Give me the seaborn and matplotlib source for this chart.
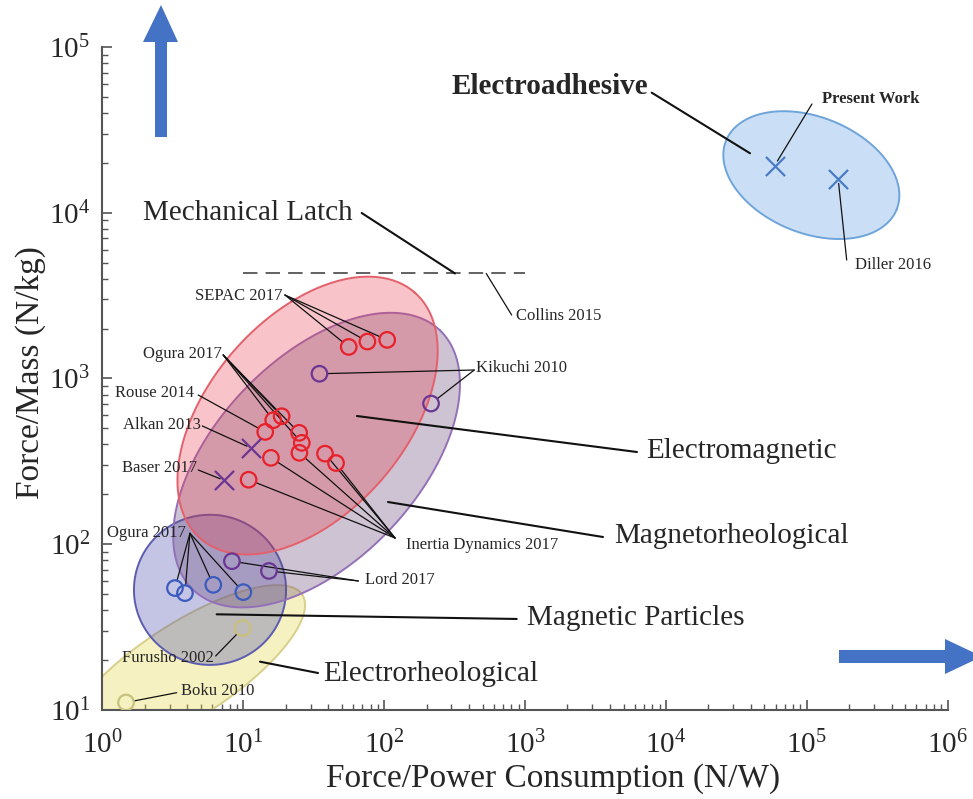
import numpy as np
import pandas as pd
import matplotlib
matplotlib.use("Agg")
import matplotlib.pyplot as plt
from matplotlib.patches import Polygon
from matplotlib.ticker import LogLocator, NullFormatter, LogFormatterMathtext
import seaborn as sns

# values (force/power in N/W, force/mass in N/kg)
ea_x = [5.9e4, 1.67e5]
ea_y = [1.92e4, 1.59e4]
ea_study = ["Present Work", "Diller 2016"]

em_x = [56, 76, 105, 16.3, 18.7, 24.9, 26.0, 14.3, 25.0, 15.7, 38.0, 45.5, 10.9]
em_y = [1550, 1670, 1710, 560, 592, 470, 409, 476, 356, 332, 352, 309, 245]
em_study = ["SEPAC 2017"] * 3 + ["Ogura 2017"] * 4 + ["Rouse 2014"] + ["Inertia Dynamics 2017"] * 5

mr_x = [34.7, 215, 8.3, 15.2]
mr_y = [1068, 706, 79, 69]
mr_study = ["Kikuchi 2010"] * 2 + ["Lord 2017"] * 2

mrx_x = [11.3, 7.3]
mrx_y = [381, 243]
mrx_study = ["Alkan 2013", "Baser 2017"]

mp_x = [3.27, 3.85, 6.12, 10.0]
mp_y = [54.4, 50.7, 56.9, 51.4]
mp_study = ["Ogura 2017 MP"] * 4

er_x = [9.9, 1.47]
er_y = [31.2, 11.1]
er_study = ["Furusho 2002", "Boku 2010"]

latch_x = [10, 1000]
latch_y = [4300, 4300]

# regions: log10 centre, semi-axes (x-decades), angle (deg)
region_names = ["Electrorheological", "Magnetic Particles", "Magnetorheological",
                "Electromagnetic", "Electroadhesive"]
region_cx = [0.585, 0.7635, 1.520, 1.456, 5.032]
region_cy = [1.235, 1.725, 2.5076, 2.7764, 4.227]
region_a = [0.994, 0.540, 1.271, 1.158, 0.653]
region_b = [0.335, 0.533, 0.717, 0.696, 0.412]
region_ang = [33, 0, 46.5, 49, -22]
region_fill = ["#e6d94e", "#4a4ab0", "#6b4b78", "#e83c4c", "#5a9ee0"]
region_alpha = [0.35, 0.32, 0.33, 0.30, 0.32]
region_edge = ["#d8cf8a", "#5c5cb0", "#9470b8", "#e4606a", "#6fa4da"]

rows = []
for g, xs, ys, st, mk in [("EA", ea_x, ea_y, ea_study, "x"), ("EM", em_x, em_y, em_study, "o"),
                          ("MR", mr_x, mr_y, mr_study, "o"), ("MR", mrx_x, mrx_y, mrx_study, "x"),
                          ("MP", mp_x, mp_y, mp_study, "o"), ("ER", er_x, er_y, er_study, "o")]:
    for x, y, s in zip(xs, ys, st):
        rows.append(dict(group=g, x=x, y=y, study=s, marker=mk))
df = pd.DataFrame(rows)

group_color = {"EA": "#4a7cc6", "EM": "#e8202a", "MR": "#6a3593", "MP": "#3b5bbf", "ER": "#c9c07c"}

sns.set_style("ticks")
plt.rcParams["font.family"] = ["Liberation Serif", "DejaVu Serif"]
plt.rcParams["mathtext.fontset"] = "custom"
plt.rcParams["mathtext.rm"] = "Liberation Serif"
plt.rcParams["mathtext.it"] = "Liberation Serif:italic"
plt.rcParams["mathtext.bf"] = "Liberation Serif:bold"

W, H = 973, 799
fig = plt.figure(figsize=(W / 100, H / 100), dpi=100)
L, R, B, T = 0.1053, 0.974, 0.1114, 0.9412
fig.subplots_adjust(left=L, right=R, bottom=B, top=T)
ax = fig.add_subplot(111)
ax.set_xscale("log")
ax.set_yscale("log")
ax.set_xlim(1, 1e6)
ax.set_ylim(10, 1e5)

# y decade length relative to x decade length on screen
aspect = ((T - B) * H / 4) / ((R - L) * W / 6)


def ellipse_xy(cx, cy, a, b, ang):
    t = np.linspace(0, 2 * np.pi, 361)
    th = np.deg2rad(ang)
    dx = a * np.cos(t) * np.cos(th) - b * np.sin(t) * np.sin(th)
    dy = a * np.cos(t) * np.sin(th) + b * np.sin(t) * np.cos(th)
    return 10 ** (cx + dx), 10 ** (cy + dy / aspect)


for i in range(len(region_names)):
    ex, ey = ellipse_xy(region_cx[i], region_cy[i], region_a[i], region_b[i], region_ang[i])
    ax.fill(ex, ey, color=region_fill[i], alpha=region_alpha[i], lw=0, zorder=1 + i * 0.1)
    ax.plot(ex, ey, color=region_edge[i], lw=1.4, zorder=1.05 + i * 0.1)

ax.plot(latch_x, latch_y, color="#555555", lw=1.3, dashes=(8, 4.5), zorder=2)

for (g, mk), sub in df.groupby(["group", "marker"]):
    c = group_color[g]
    if mk == "o":
        sns.scatterplot(data=sub, x="x", y="y", marker="o", s=125, color=c,
                        facecolor="none", edgecolor=c, linewidth=1.6, ax=ax,
                        legend=False, zorder=5)
    else:
        sns.scatterplot(data=sub, x="x", y="y", marker="x", s=190, color=c,
                        linewidth=1.6, ax=ax, legend=False, zorder=5)

# small labels: text, group, study key, text pos (axes frac), ha, leader origin
small_labels = [
    ("SEPAC 2017", "EM", "SEPAC 2017", (0.2135, 0.6244), "right", (0.2159, 0.6259)),
    ("Ogura 2017", "EM", "Ogura 2017", (0.1410, 0.5370), "right", (0.1429, 0.5354)),
    ("Rouse 2014", "EM", "Rouse 2014", (0.1086, 0.4777), "right", (0.1133, 0.4751)),
    ("Alkan 2013", "MR", "Alkan 2013", (0.1165, 0.4299), "right", (0.1181, 0.4284)),
    ("Baser 2017", "MR", "Baser 2017", (0.1115, 0.3646), "right", (0.1133, 0.3620)),
    ("Inertia Dynamics 2017", "EM", "Inertia Dynamics 2017", (0.3591, 0.2489), "left", (0.3461, 0.2594)),
    ("Kikuchi 2010", "MR", "Kikuchi 2010", (0.4418, 0.5154), "left", (0.4399, 0.5128)),
    ("Lord 2017", "MR", "Lord 2017", (0.3106, 0.1961), "left", (0.3027, 0.1946)),
    ("Ogura 2017", "MP", "Ogura 2017 MP", (0.0984, 0.2674), "right", (0.1035, 0.2665)),
    ("Furusho 2002", "ER", "Furusho 2002", (0.1311, 0.0780), "right", (0.1339, 0.0814)),
    ("Boku 2010", "ER", "Boku 2010", (0.0929, 0.0287), "left", (0.0878, 0.0261)),
    ("Diller 2016", "EA", "Diller 2016", (0.8903, 0.6712), "left", (0.8805, 0.6787)),
]
for text, g, key, tpos, ha, origin in small_labels:
    ax.text(*tpos, text, transform=ax.transAxes, ha=ha, va="center", fontsize=12)
    sub = df[(df.group == g) & (df.study == key)]
    for x, y, mk in zip(sub.x, sub.y, sub.marker):
        ax.annotate("", xy=(x, y), xycoords="data", xytext=origin, textcoords="axes fraction",
                    arrowprops=dict(arrowstyle="-", color="#111111", lw=0.9,
                                    shrinkA=0, shrinkB=5.5 if mk == "o" else 3))

ax.text(0.8513, 0.9216, "Present Work", transform=ax.transAxes, ha="left", va="center",
        fontsize=12, fontweight="bold")
pw = df[df.study == "Present Work"]
ax.annotate("", xy=(pw.x.iloc[0], pw.y.iloc[0]), xytext=(0.8394, 0.914), textcoords="axes fraction",
            arrowprops=dict(arrowstyle="-", color="#111111", lw=0.9, shrinkA=0, shrinkB=4))

ax.text(0.4889, 0.5943, "Collins 2015", transform=ax.transAxes, ha="left", va="center", fontsize=12)
ax.annotate("", xy=(530, latch_y[0]), xytext=(0.4841, 0.5958), textcoords="axes fraction",
            arrowprops=dict(arrowstyle="-", color="#111111", lw=0.9, shrinkA=0, shrinkB=0))

# region labels
big_labels = [
    ("Electroadhesive", (0.4135, 0.9397), (0.6498, 0.9311), (0.7661, 0.8397), "bold"),
    ("Mechanical Latch", (0.0479, 0.7496), (0.3067, 0.7496), (0.4171, 0.6584), "normal"),
    ("Electromagnetic", (0.6430, 0.3906), (0.3011, 0.4434), (0.6324, 0.3891), "normal"),
    ("Magnetorheological", (0.6052, 0.2624), (0.3378, 0.3137), (0.5922, 0.2609), "normal"),
    ("Magnetic Particles", (0.5022, 0.1388), (0.1351, 0.1443), (0.4901, 0.1373), "normal"),
    ("Electrorheological", (0.2609, 0.0543), (0.1863, 0.0729), (0.2550, 0.0558), "normal"),
]
for text, tpos, p0, p1, fw in big_labels:
    ax.text(*tpos, text, transform=ax.transAxes, ha="left", va="center", fontsize=21, fontweight=fw)
    ax.annotate("", xy=p0, xycoords="axes fraction", xytext=p1, textcoords="axes fraction",
                arrowprops=dict(arrowstyle="-", color="#111111", lw=1.5, shrinkA=0, shrinkB=0))

sns.despine(ax=ax)
for s in ["left", "bottom"]:
    ax.spines[s].set_color("#555555")
    ax.spines[s].set_linewidth(1.5)
for axis in (ax.xaxis, ax.yaxis):
    axis.set_major_locator(LogLocator(base=10))
    axis.set_minor_locator(LogLocator(base=10, subs=np.arange(2, 10)))
    axis.set_minor_formatter(NullFormatter())
    axis.set_major_formatter(LogFormatterMathtext())
ax.tick_params(which="major", direction="in", length=7, width=1.2, color="#555555", labelsize=21)
ax.tick_params(which="minor", direction="in", length=4, width=1.0, color="#555555")
ax.tick_params(axis="x", which="major", pad=15)
ax.tick_params(axis="y", which="major", pad=9)

ax.set_xlabel("Force/Power Consumption (N/W)", fontsize=24)
ax.set_ylabel("Force/Mass (N/kg)", fontsize=24)
ax.xaxis.set_label_coords(0.533, -0.08)
ax.yaxis.set_label_coords(-0.067, 0.509)


def fig_px(pts):
    return [(x / W, 1 - y / H) for x, y in pts]


arrow_col = "#4472c4"
fig.add_artist(Polygon(fig_px([(155, 137), (167, 137), (167, 42), (178, 42), (161, 5), (143, 42), (155, 42)]),
                       closed=True, transform=fig.transFigure, color=arrow_col, lw=0))
fig.add_artist(Polygon(fig_px([(839, 650), (945, 650), (945, 639), (982, 656.5), (945, 674), (945, 663), (839, 663)]),
                       closed=True, transform=fig.transFigure, color=arrow_col, lw=0))

fig.savefig("out.png", dpi=100)
